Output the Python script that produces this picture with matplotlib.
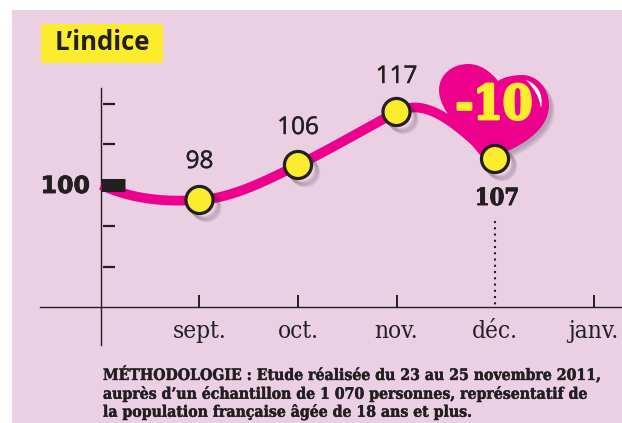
import numpy as np
import matplotlib
matplotlib.use('Agg')
import matplotlib.pyplot as plt
import matplotlib.patheffects as pe
from matplotlib.path import Path
from matplotlib.patches import PathPatch, Rectangle
from matplotlib.transforms import Affine2D

# data
months = ['sept.', 'oct.', 'nov.', 'déc.', 'janv.']
month_pos = [1, 2, 3, 4, 5]
index_pos = [0, 1, 2, 3, 4]
index_val = [100, 98, 106, 117, 107]
y_ticks = [80, 90, 110, 120]

# the vertical scale of the artwork is hand drawn: value -> height in pixels
scale_val = [42, 80, 90, 98, 100, 106, 107, 110, 117, 120, 145.4]
scale_h = [0, 156, 197, 223, 238, 258, 264, 279, 311, 319, 423]

DARK = '#231F20'
PINK = '#EC008C'
YELLOW = '#FBEC2D'
BG = '#EBCFE3'


def forward(v):
    return np.interp(v, scale_val, scale_h)


def inverse(h):
    return np.interp(h, scale_h, scale_val)


fig = plt.figure(figsize=(6.22, 4.23), dpi=100)
ax = fig.add_axes([0, 0, 1, 1])
ax.set_xlim(-1.025, 5.289)
ax.set_yscale('function', functions=(forward, inverse))
ax.set_ylim(42, 145.4)
ax.patch.set_visible(False)

# pixel coords of the reference, for the decorations
px = Affine2D().scale(1 / 622, -1 / 423).translate(0, 1) + ax.transAxes
ax.add_patch(Rectangle((12, 10), 610, 413, transform=px, fc=BG, ec='none', zorder=0))
ax.add_patch(Rectangle((41, 24), 122, 39, transform=px, fc=YELLOW, ec='none', zorder=1))
ax.text(102, 43, 'L’indice', transform=px, family='Open Sans', weight='bold',
        fontsize=18.5, color=DARK, ha='center', va='center', zorder=2)

# axes
axis_y = inverse(423 - 307)
for s in ['top', 'right']:
    ax.spines[s].set_visible(False)
ax.spines['left'].set_position(('data', 0))
ax.spines['left'].set_bounds(inverse(423 - 345), inverse(423 - 88))
ax.spines['bottom'].set_position(('data', axis_y))
ax.spines['bottom'].set_bounds(-0.62, 5.289)
for s in ['left', 'bottom']:
    ax.spines[s].set_color(DARK)
    ax.spines[s].set_linewidth(1.0)
ax.set_yticks([])
ax.minorticks_off()
ax.set_xticks(month_pos)
ax.set_xticklabels(months, family='DejaVu Serif', stretch='condensed', fontsize=17.5, color=DARK)
ax.tick_params(axis='x', direction='in', length=9, width=1.4, color=DARK, pad=9)
ax.xaxis.get_major_ticks()[3].tick1line.set_visible(False)
ax.plot([0.085] * len(y_ticks), y_ticks, ls='none', marker='_', ms=8.6, mew=1.6, color=DARK, zorder=3)
ax.plot([4, 4], [inverse(423 - 221), axis_y], ls=(0, (1, 2)), lw=1.5, color=DARK, zorder=3)

# curve, smoothed in pixel space
xs = np.array(index_pos, dtype=float)
hs = forward(np.array(index_val, dtype=float))
slopes = [-45, 6, 48, 52, -85]
cx = []
ch = []
for i in range(len(xs) - 1):
    t = np.linspace(0, 1, 60)
    a = 2 * t**3 - 3 * t**2 + 1
    b = t**3 - 2 * t**2 + t
    c = -2 * t**3 + 3 * t**2
    d = t**3 - t**2
    cx.extend(xs[i] + t)
    ch.extend(a * hs[i] + b * slopes[i] + c * hs[i + 1] + d * slopes[i + 1])
ax.plot(cx, inverse(np.array(ch)), color=PINK, lw=7, solid_capstyle='butt', zorder=3)

ax.plot([0, 0.245], [100, 100], color=DARK, lw=9.4, solid_capstyle='butt', zorder=4)

# heart
verts = [(498, 81),
         (490, 71), (480, 64), (468, 64),
         (452, 64), (439, 75), (439, 90),
         (439, 110), (462, 132), (484, 160),
         (510, 152), (549, 135), (549, 105),
         (549, 88), (537, 75), (522, 75),
         (513, 75), (504, 77), (498, 81)]
codes = [Path.MOVETO] + [Path.CURVE4] * 18
shadow = [pe.SimplePatchShadow(offset=(o, -o), shadow_rgbFace='#3a3040', alpha=0.1) for o in (4, 3, 2)] + [pe.Normal()]
ax.add_patch(PathPatch(Path(verts, codes), transform=px, fc=PINK, ec='none', zorder=5, path_effects=shadow))
glint = [(526, 80), (537, 84), (544, 94), (541, 108), (539, 96), (534, 88), (526, 80)]
ax.add_patch(PathPatch(Path(glint, [Path.MOVETO] + [Path.CURVE4] * 6), transform=px, fc='white', ec='none', zorder=6))
ax.text(494, 106, '-10', transform=px, family='DejaVu Serif', stretch='condensed', weight='bold', fontsize=34,
        color=YELLOW, ha='center', va='center', zorder=6,
        path_effects=[pe.withStroke(linewidth=2, foreground=YELLOW)])

# points
ax.plot(index_pos[1:], index_val[1:], ls='none', marker='o', ms=19.5, mfc=YELLOW, mec=DARK, mew=2.3, zorder=7,
        path_effects=[pe.SimpleLineShadow(offset=(o, -o), shadow_color='#3a3040', alpha=0.13) for o in (5, 4, 3)] + [pe.Normal()])

# labels
label_px = [None, 162, 128, 77]
for i in range(1, 4):
    ax.text(index_pos[i], inverse(423 - label_px[i]), str(index_val[i]), family='Open Sans', fontsize=17.5,
            color=DARK, ha='center', va='center', zorder=8,
            path_effects=[pe.withStroke(linewidth=0.3, foreground=DARK)])
ax.text(4.02, inverse(423 - 198), str(index_val[4]), family='DejaVu Serif', stretch='condensed', weight='bold',
        fontsize=17, color=DARK, ha='center', va='center', zorder=8,
        path_effects=[pe.withStroke(linewidth=0.7, foreground=DARK)])
ax.text(90, 186, '100', transform=px, family='DejaVu Sans', weight='bold', fontsize=17, color=DARK,
        ha='right', va='center', zorder=8,
        path_effects=[pe.withStroke(linewidth=0.6, foreground=DARK)])

note = ['MÉTHODOLOGIE : Etude réalisée du 23 au 25 novembre 2011,',
        'auprès d’un échantillon de 1 070 personnes, représentatif de',
        'la population française âgée de 18 ans et plus.']
for line, y in zip(note, [375, 394, 412]):
    ax.text(103, y, line, transform=px, family='DejaVu Serif', stretch='condensed', weight='bold', fontsize=11.3,
            color=DARK, ha='left', va='center', zorder=8,
            path_effects=[pe.withStroke(linewidth=0.3, foreground=DARK)])

fig.savefig('out.png', dpi=100, facecolor='white')
